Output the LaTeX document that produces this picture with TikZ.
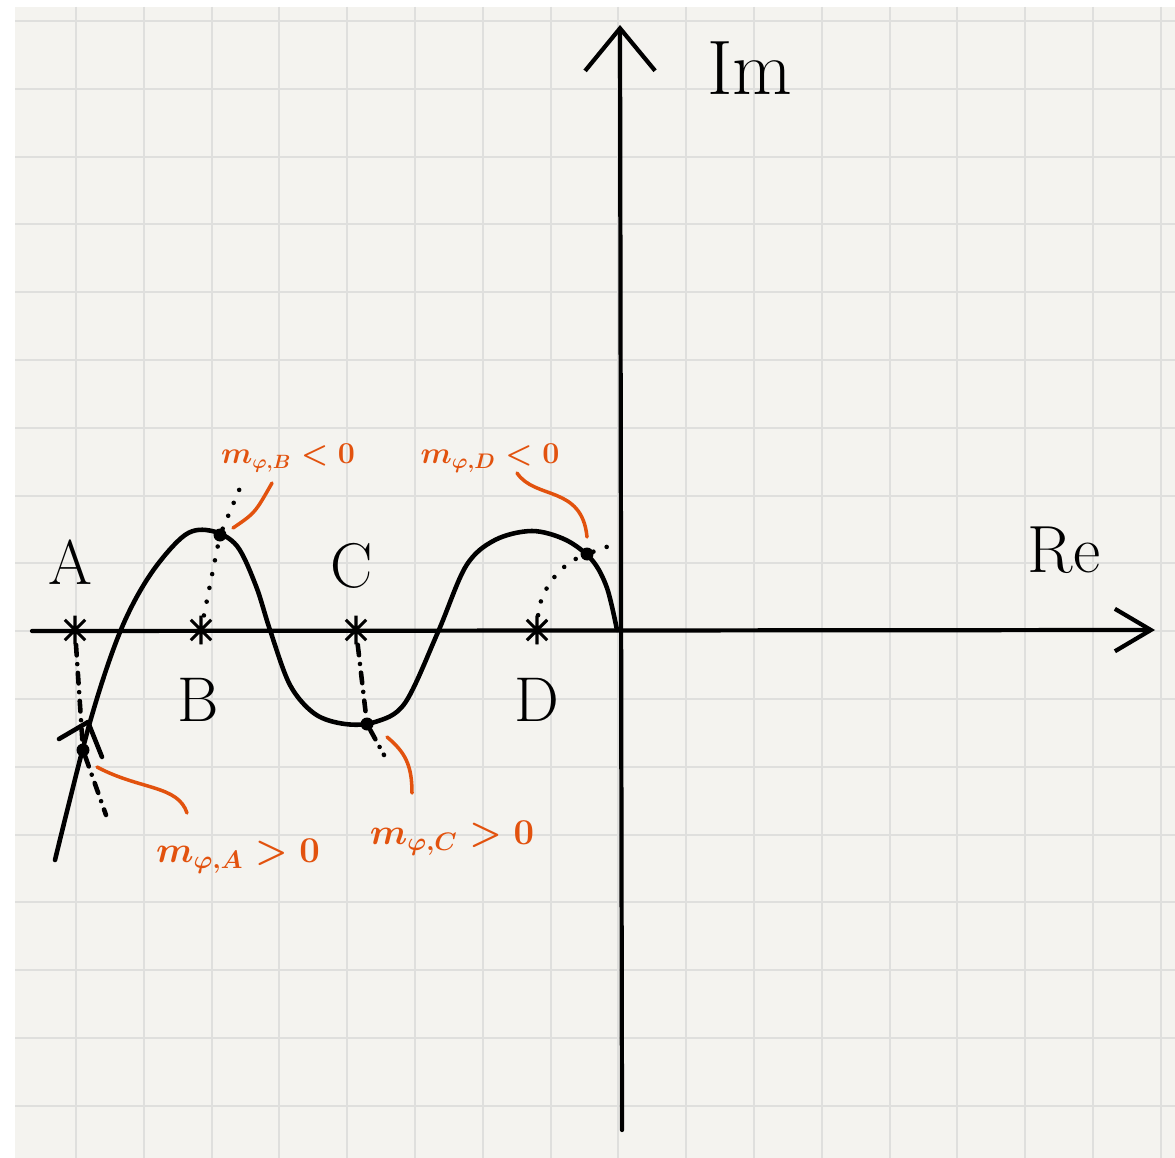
\documentclass[tikz,border=0pt]{standalone}
\usepackage{amsmath,amssymb}
\usepackage{tikz}
\usetikzlibrary{arrows.meta,calc}
\definecolor{paper}{RGB}{244,243,239}
\definecolor{gridc}{RGB}{223,223,221}
\definecolor{pen}{RGB}{226,82,14}

\begin{document}
\begin{tikzpicture}[x=0.02cm, y=-0.02cm,
    gridln/.style={draw=gridc, line width=1.2pt},
    crv/.style={line width=2.6pt, line cap=round, line join=round},
    ax/.style={line width=2.4pt, line cap=round, line join=round},
    ast/.style={circle, minimum size=0.58cm, inner sep=0pt,
        path picture={\draw[line width=1.8pt]
            (path picture bounding box.north) -- (path picture bounding box.south)
            (path picture bounding box.north west) -- (path picture bounding box.south east)
            (path picture bounding box.north east) -- (path picture bounding box.south west);}},
    pt/.style={circle, fill=black, minimum size=0.26cm, inner sep=0pt},
    guide/.style={line width=2.6pt, line cap=round, dash pattern=on 0pt off 8pt},
    guidedash/.style={line width=2.6pt, line cap=round, dash pattern=on 6pt off 5pt on 0pt off 5pt},
    lead/.style={draw=pen, line width=2pt, line cap=round},
    lbl/.style={font=\fontsize{36}{38}\selectfont, inner sep=0pt},
    tag/.style={text=pen, inner sep=0pt}
]
\useasboundingbox (0,0) rectangle (1175,1158);
% squared paper
\fill[paper] (15,7) rectangle (1175,1158);
\foreach \i in {0,...,16} {
  \draw[gridln] (76+67.8*\i,7) -- (76+67.8*\i,1158);
  \draw[gridln] (15,21+67.8*\i) -- (1175,21+67.8*\i);
}

% axes
\coordinate (reL) at (32,631);
\coordinate (reR) at (1155,630);
\coordinate (imB) at (622,1130);
\coordinate (imT) at (620,25);
\draw[ax, -{Straight Barb[length=0.72cm, width=0.85cm]}] (reL) -- (reR);
\draw[ax, -{Straight Barb[length=0.85cm, width=1.4cm]}] (imB) -- (imT);
\node[lbl, font=\fontsize{44}{46}\selectfont] (im) at (750,68) {Im};
\node[lbl, font=\fontsize{38}{40}\selectfont] (re) at (1064,550) {Re};

% marked points on the real axis
\node[ast] (sA) at (75,630) {};
\node[ast] (sB) at (201,630) {};
\node[ast] (sC) at (356,630) {};
\node[ast] (sD) at (537,630) {};
\node[lbl] (lA) at (70,562) {A};
\node[lbl] (lB) at (198,700) {B};
\node[lbl] (lC) at (352,566) {C};
\node[lbl] (lD) at (537,700) {D};

% the curve
\draw[crv] plot[smooth, tension=0.55] coordinates {(55,860) (90,722) (120,632) (150,575) (185,535) (212,531) (237,546) (256,586) (270,630) (290,685) (315,714) (345,724) (375,722) (405,703) (438,632) (466,566) (495,540) (532,531) (566,540) (592,560) (607,588) (617,630)};
\coordinate (tipA) at (88,722);
\draw[crv] ($(tipA)+(-29,17)$) -- (tipA) -- ($(tipA)+(14,35)$);

\node[pt] (dA) at (83,750) {};
\node[pt] (dB) at (220,535) {};
\node[pt] (dC) at (367,724) {};
\node[pt] (dD) at (587,554) {};

% guides from the marks to the curve
\coordinate (gA) at (106,815);
\coordinate (gB) at (240,488);
\coordinate (gC) at (384,755);
\coordinate (gD) at (612,545);
\draw[guidedash] (sA) -- (dA) -- (gA);
\draw[guide] (sB) -- (dB) -- (gB);
\draw[guidedash] (sC) -- (dC) -- (gC);
\draw[guide] (sD) .. controls (540,590) and (560,565) .. (dD) -- (gD);

% orange notes
\node[tag, font=\fontsize{20}{22}\selectfont\boldmath] (tA) at (238,856) {$m_{\varphi,A}>0$};
\node[tag, font=\fontsize{16}{18}\selectfont\boldmath] (tB) at (288,458) {$m_{\varphi,B}<0$};
\node[tag, font=\fontsize{21.5}{24}\selectfont\boldmath] (tC) at (452,838) {$m_{\varphi,C}>0$};
\node[tag, font=\fontsize{16.7}{19}\selectfont\boldmath] (tD) at (490,458) {$m_{\varphi,D}<0$};

\coordinate (a1) at (97,767);
\coordinate (a2) at (187,813);
\coordinate (b1) at (233,528);
\coordinate (b2) at (272,483);
\coordinate (c1) at (387,737);
\coordinate (c2) at (412,793);
\coordinate (e1) at (517,473);
\coordinate (e2) at (587,537);
\draw[lead] (a1) .. controls (140,790) and (178,785) .. (a2);
\draw[lead] (b1) .. controls (255,513) .. (b2);
\draw[lead] (c1) .. controls (405,752) and (412,765) .. (c2);
\draw[lead] (e1) .. controls (535,500) and (582,485) .. (e2);
\end{tikzpicture}
\end{document}
